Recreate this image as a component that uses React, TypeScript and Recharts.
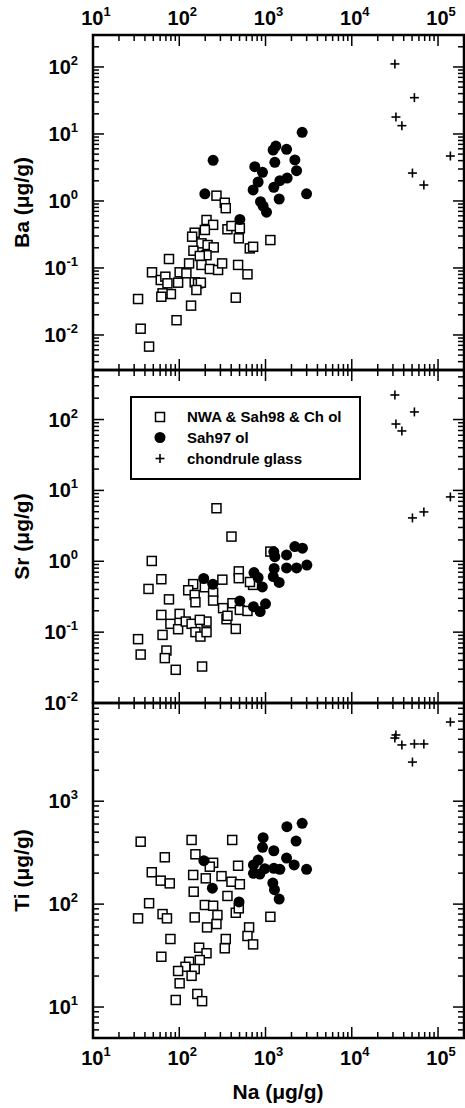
import React from 'react';
import { ScatterChart, Scatter, XAxis, YAxis } from 'recharts';

// ---------- data ----------
// chondrule glass: Na (µg/g) per analysis and the matching Ba, Sr, Ti
const glassNa = [31600, 32500, 38100, 50500, 53200, 68500, 139000];
const glassBa = [111, 17.9, 13.3, 2.61, 34.8, 1.73, 4.69];
const glassSr = [222, 86.5, 69, 4.09, 128, 4.97, 8.09];
const glassTi = [4110, 4400, 3520, 2400, 3600, 3600, 5880];

// NWA & Sah98 & Ch ol : [Na, Ba]
const baSquares: [number, number][] = [
  [270, 1.2], [337, 0.94], [346, 0.78], [207, 0.52], [247, 0.44], [151, 0.336], [141, 0.293],
  [198, 0.369], [362, 0.378], [403, 0.423], [504, 0.391], [490, 0.277], [657, 0.196], [718, 0.207],
  [1138, 0.261], [181, 0.233], [213, 0.22], [251, 0.203], [146, 0.181], [207, 0.155], [173, 0.151],
  [76, 0.136], [130, 0.117], [181, 0.111], [226, 0.0965], [282, 0.0933], [314, 0.117], [481, 0.111],
  [618, 0.0804], [48.3, 0.0861], [101, 0.0861], [121, 0.0832], [61, 0.0661], [69, 0.0741], [97, 0.0603],
  [73, 0.059], [151, 0.0611], [165, 0.059], [178, 0.0603], [158, 0.0469], [80, 0.0408], [64, 0.0418],
  [62, 0.0372], [33.3, 0.0344], [137, 0.0274], [452, 0.036], [93, 0.0166], [35.7, 0.0124], [44.7, 0.0067],
];
// Sah97 ol : [Na, Ba]
const baCircles: [number, number][] = [
  [2660, 10.6], [1317, 6.6], [1225, 5.76], [1754, 5.9], [247, 4.04], [1282, 3.77], [2189, 4.09],
  [751, 3.25], [923, 2.68], [2291, 2.83], [1782, 2.2], [1466, 2.01], [821, 1.92], [1248, 1.6],
  [718, 1.46], [2992, 1.28], [198, 1.28], [1440, 1.07], [875, 0.975], [938, 0.84], [1027, 0.68], [504, 0.53],
];

// [Na, Sr]
const srSquares: [number, number][] = [
  [270, 5.6], [403, 2.23], [48, 1.01], [1138, 1.37], [62, 0.558], [44, 0.407], [76, 0.29],
  [490, 0.72], [490, 0.577], [316, 0.55], [145, 0.476], [127, 0.39], [151, 0.335], [198, 0.43],
  [247, 0.36], [247, 0.279], [154, 0.264], [414, 0.256], [718, 0.464], [660, 0.51], [322, 0.218],
  [504, 0.206], [618, 0.199], [62, 0.175], [101, 0.181], [79, 0.131], [97, 0.11], [119, 0.141],
  [139, 0.131], [154, 0.1], [176, 0.0866], [207, 0.1], [207, 0.141], [173, 0.149], [353, 0.152],
  [362, 0.17], [452, 0.111], [33.3, 0.0796], [35.7, 0.0483], [64, 0.0914], [71, 0.055], [68, 0.043],
  [91, 0.0294], [184, 0.0327],
];
const srCircles: [number, number][] = [
  [192, 0.573], [245, 0.474], [504, 0.276], [725, 0.229], [867, 0.195], [1000, 0.251], [735, 0.692],
  [821, 0.588], [918, 0.434], [1248, 1.36], [1282, 1.16], [1754, 1.23], [2189, 1.61], [2680, 1.53],
  [1260, 0.793], [1754, 0.805], [2291, 0.805], [3015, 0.883], [1230, 0.608], [1440, 0.503],
];

// [Na, Ti]
const tiSquares: [number, number][] = [
  [35.7, 404], [139, 420], [411, 420], [68, 285], [154, 305], [247, 252], [226, 231], [481, 236],
  [48, 204], [61, 169], [77.6, 159], [145, 192], [203, 178], [309, 187], [403, 165], [504, 156],
  [147, 132], [362, 120], [44.7, 102], [33.3, 72.7], [64, 80], [72, 72.7], [151, 74.3], [198, 98],
  [247, 96.4], [277, 78.3], [270, 64], [210, 59.4], [452, 82.4], [490, 91], [1138, 75.3], [645, 59.4],
  [618, 49], [718, 40.6], [346, 45.8], [337, 37.2], [79, 45.8], [62, 30.8], [170, 37.7], [207, 33.3],
  [173, 28.6], [130, 27.5], [118, 24.6], [97, 22.4], [151, 23.4], [139, 20.1], [101, 17], [91, 11.7],
  [162, 13.4], [184, 11.4],
];
const tiCircles: [number, number][] = [
  [2660, 610], [1770, 565], [938, 442], [2260, 410], [923, 356], [1248, 330], [821, 268], [1754, 280],
  [2148, 240], [2992, 218], [725, 240], [725, 199], [981, 221], [859, 196], [1250, 223], [1466, 218],
  [1215, 160], [1270, 138], [1440, 112], [193, 264], [242, 143], [493, 105],
];

// axes
const naDomain: [number, number] = [10, 200000];
const naMajor = [10, 100, 1000, 10000, 100000];
const baDomain: [number, number] = [0.003, 300];
const baMajor = [0.01, 0.1, 1, 10, 100];
const srDomain: [number, number] = [0.01, 500];
const srMajor = [0.01, 0.1, 1, 10, 100];
const tiDomain: [number, number] = [5, 9000];
const tiMajor = [10, 100, 1000];
const minorMultipliers = [2, 3, 4, 5, 6, 7, 8, 9];

const legendNames = ['NWA & Sah98 & Ch ol', 'Sah97 ol', 'chondrule glass'];

// ---------- layout ----------
const W = 465;
const H = 1108;
const LEFT = 93;
const RIGHT = 464;
const FONT = '"Liberation Sans", Arial, Helvetica, sans-serif';

function buildTicks(domain: [number, number], majors: number[]) {
  const out: number[] = [];
  for (let e = -4; e <= 6; e++) {
    for (const m of minorMultipliers) {
      const v = parseFloat((m * Math.pow(10, e)).toPrecision(6));
      if (v > domain[0] * 1.0001 && v < domain[1] * 0.9999) out.push(v);
    }
  }
  for (const v of majors) out.push(v);
  return out.sort((a, b) => a - b);
}

const isMajor = (v: number) => Math.abs(Math.log10(v) - Math.round(Math.log10(v))) < 1e-6;
const expOf = (v: number) => String(Math.round(Math.log10(v)));

const toPts = (arr: [number, number][]) => arr.map(([x, y]) => ({ x, y }));
const glassPts = (vals: number[]) => glassNa.map((x, i) => ({ x, y: vals[i] }));

const SquareShape = (p: any) => (
  <rect x={p.cx - 4.5} y={p.cy - 4.5} width={9} height={9} fill="#fff" stroke="#000" strokeWidth={1.5} />
);
const CircleShape = (p: any) => <circle cx={p.cx} cy={p.cy} r={5.5} fill="#000" />;
const CrossShape = (p: any) => (
  <g stroke="#000" strokeWidth={1.6}>
    <line x1={p.cx - 4.5} x2={p.cx + 4.5} y1={p.cy} y2={p.cy} />
    <line x1={p.cx} x2={p.cx} y1={p.cy - 4.5} y2={p.cy + 4.5} />
  </g>
);

const TickLabel = ({ x, y, v, anchor }: { x: number; y: number; v: number; anchor: 'start' | 'middle' | 'end' }) => (
  <text x={x} y={y} textAnchor={anchor} fontFamily={FONT} fontWeight="bold" fontSize={20} fill="#000">
    10
    <tspan dy={-9} fontSize={13}>
      {expOf(v)}
    </tspan>
  </text>
);

type PanelProps = {
  top: number;
  bottom: number;
  yDomain: [number, number];
  yMajor: number[];
  title: string;
  squares: [number, number][];
  circles: [number, number][];
  glass: number[];
  topLabels: boolean;
  bottomLabels: boolean;
};

function Panel({ top, bottom, yDomain, yMajor, title, squares, circles, glass, topLabels, bottomLabels }: PanelProps) {
  const plotH = bottom - top;
  const plotW = RIGHT - LEFT;
  const xTicks = buildTicks(naDomain, naMajor);
  const yTicks = buildTicks(yDomain, yMajor);

  const xTick = (p: any) => {
    const v = p.payload.value;
    const x = p.payload.coordinate ?? p.x;
    const major = isMajor(v);
    const len = major ? 11 : 6;
    return (
      <g>
        <line x1={x} x2={x} y1={bottom} y2={bottom - len} stroke="#000" strokeWidth={1.5} />
        <line x1={x} x2={x} y1={top} y2={top + len} stroke="#000" strokeWidth={1.5} />
        {major && bottomLabels && <TickLabel x={x + 3} y={bottom + 27} v={v} anchor="middle" />}
        {major && topLabels && <TickLabel x={x + 3} y={top - 10} v={v} anchor="middle" />}
      </g>
    );
  };

  const yTick = (p: any) => {
    const v = p.payload.value;
    const y = p.payload.coordinate ?? p.y;
    const major = isMajor(v);
    const len = major ? 11 : 6;
    return (
      <g>
        <line x1={LEFT} x2={LEFT + len} y1={y} y2={y} stroke="#000" strokeWidth={1.5} />
        <line x1={RIGHT} x2={RIGHT - len} y1={y} y2={y} stroke="#000" strokeWidth={1.5} />
        {major && <TickLabel x={78} y={y + 7} v={v} anchor="end" />}
      </g>
    );
  };

  return (
    <div style={{ position: 'absolute', left: 0, top: 0 }}>
      <ScatterChart
        width={W}
        height={H}
        margin={{ top, bottom: H - bottom - 1, left: LEFT - 1, right: W - RIGHT }}
      >
        <XAxis
          type="number"
          dataKey="x"
          scale="log"
          domain={naDomain}
          allowDataOverflow
          ticks={xTicks}
          interval={0}
          height={1}
          tickSize={0}
          tickMargin={0}
          axisLine={false}
          tickLine={false}
          tick={xTick}
        />
        <YAxis
          type="number"
          dataKey="y"
          scale="log"
          domain={yDomain}
          allowDataOverflow
          ticks={yTicks}
          interval={0}
          width={1}
          tickSize={0}
          tickMargin={0}
          axisLine={false}
          tickLine={false}
          tick={yTick}
        />
        <Scatter data={toPts(squares)} shape={SquareShape} isAnimationActive={false} />
        <Scatter data={toPts(circles)} shape={CircleShape} isAnimationActive={false} />
        <Scatter data={glassPts(glass)} shape={CrossShape} isAnimationActive={false} />
      </ScatterChart>
      <svg width={W} height={H} style={{ position: 'absolute', left: 0, top: 0, pointerEvents: 'none' }}>
        <rect x={LEFT} y={top} width={plotW} height={plotH} fill="none" stroke="#000" strokeWidth={2.5} />
        <text
          transform={`translate(29, ${(top + bottom) / 2}) rotate(-90)`}
          textAnchor="middle"
          fontFamily={FONT}
          fontWeight="bold"
          fontSize={21}
          fill="#000"
        >
          {title}
        </text>
      </svg>
    </div>
  );
}

function Legend() {
  const rows = [417, 437.5, 458.5];
  return (
    <svg width={W} height={H} style={{ position: 'absolute', left: 0, top: 0, pointerEvents: 'none' }}>
      <rect x={131} y={397} width={229} height={82} fill="#fff" stroke="#000" strokeWidth={2} />
      <SquareShape cx={160} cy={rows[0]} />
      <CircleShape cx={160} cy={rows[1]} />
      <CrossShape cx={160} cy={rows[2]} />
      {legendNames.map((n, i) => (
        <text key={n} x={187} y={rows[i] + 5} fontFamily={FONT} fontWeight="bold" fontSize={15} fill="#000">
          {n}
        </text>
      ))}
    </svg>
  );
}

export default function App() {
  return (
    <div style={{ position: 'absolute', left: 0, top: 0, width: W, height: H, background: '#fff' }}>
      <Panel top={35} bottom={370} yDomain={baDomain} yMajor={baMajor} title="Ba (μg/g)"
        squares={baSquares} circles={baCircles} glass={glassBa} topLabels bottomLabels={false} />
      <Panel top={370} bottom={703} yDomain={srDomain} yMajor={srMajor} title="Sr (μg/g)"
        squares={srSquares} circles={srCircles} glass={glassSr} topLabels={false} bottomLabels={false} />
      <Panel top={703} bottom={1038} yDomain={tiDomain} yMajor={tiMajor} title="Ti (μg/g)"
        squares={tiSquares} circles={tiCircles} glass={glassTi} topLabels={false} bottomLabels />
      <Legend />
      <svg width={W} height={H} style={{ position: 'absolute', left: 0, top: 0, pointerEvents: 'none' }}>
        <text x={278} y={1099} textAnchor="middle" fontFamily={FONT} fontWeight="bold" fontSize={21} fill="#000">
          Na (μg/g)
        </text>
      </svg>
    </div>
  );
}
